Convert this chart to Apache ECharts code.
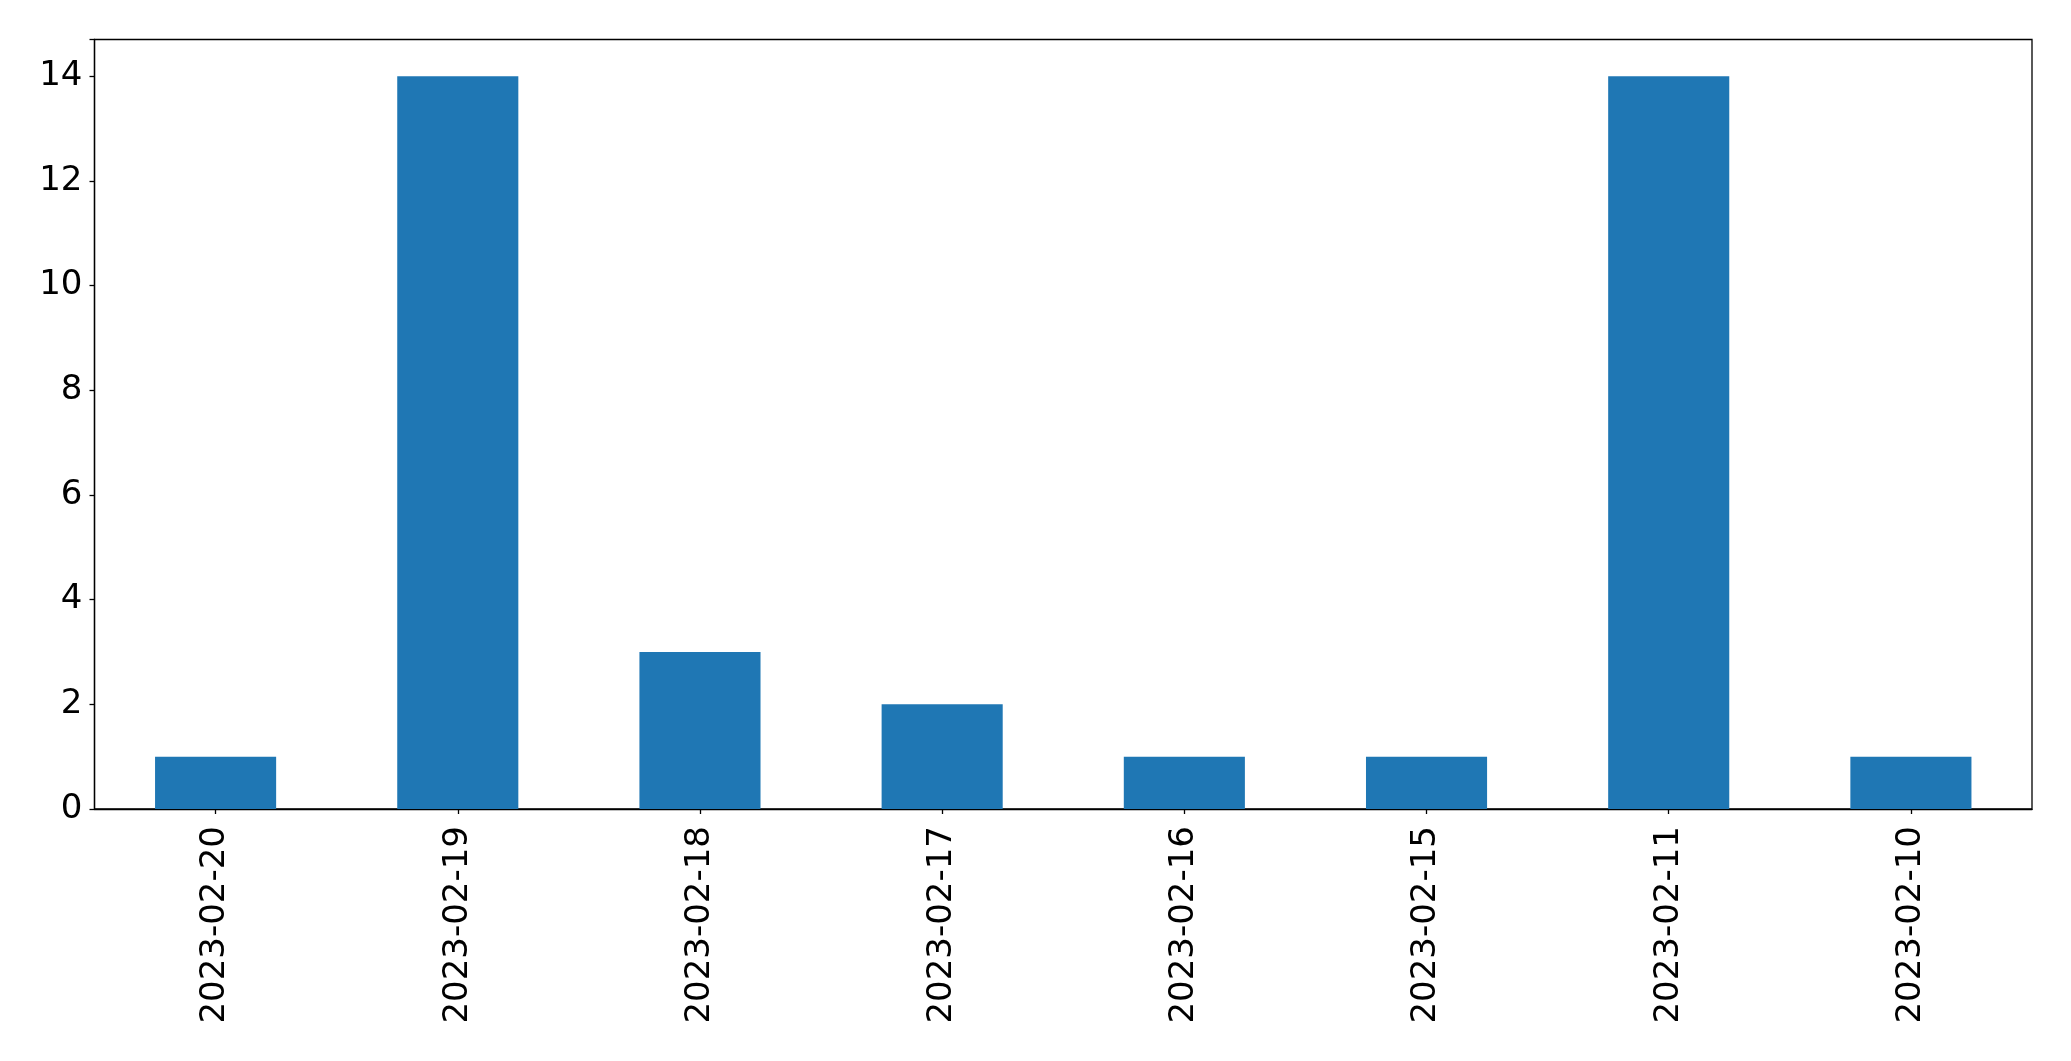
<!DOCTYPE html>
<html>
<head>
<meta charset="utf-8">
<script src="https://cdn.jsdelivr.net/npm/echarts@6/dist/echarts.min.js"></script>
<style>
html,body{margin:0;padding:0;background:#fff;}
#chart{width:2071px;height:1061px;}
</style>
</head>
<body>
<div id="chart"></div>
<script>
const categories = ["2023-02-20","2023-02-19","2023-02-18","2023-02-17","2023-02-16","2023-02-15","2023-02-11","2023-02-10"];
const counts = [1,14,3,2,1,1,14,1];
const yTicks = [0,2,4,6,8,10,12,14];

const chart = echarts.init(document.getElementById('chart'), null, {renderer:'canvas'});
const font = '"DejaVu Sans", sans-serif';
chart.setOption({
  animation:false,
  backgroundColor:'#ffffff',
  grid:{left:94.5, top:39.5, right:39, bottom:252, show:true, borderColor:'#000', borderWidth:1.3, backgroundColor:'transparent'},
  xAxis:{
    type:'category',
    data:categories,
    boundaryGap:true,
    axisLine:{show:true, lineStyle:{color:'#000', width:1.3}},
    axisTick:{show:true, alignWithLabel:true, length:5, lineStyle:{color:'#000', width:1.3}},
    axisLabel:{rotate:90, margin:17, color:'#000', fontSize:34, fontFamily:font, interval:0},
    splitLine:{show:false}
  },
  yAxis:{
    type:'value',
    min:0, max:14.7, interval:2,
    axisLine:{show:true, lineStyle:{color:'#000', width:1.3}},
    axisTick:{show:true, length:5, lineStyle:{color:'#000', width:1.3}},
    axisLabel:{margin:12, color:'#000', fontSize:34, fontFamily:font,
      formatter:function(v){ return yTicks.indexOf(v) >= 0 ? String(v) : ''; }},
    splitLine:{show:false}
  },
  series:[{
    type:'bar',
    data:counts,
    barWidth:'50%',
    itemStyle:{color:'#1f77b4'}
  }]
});
</script>
</body>
</html>
